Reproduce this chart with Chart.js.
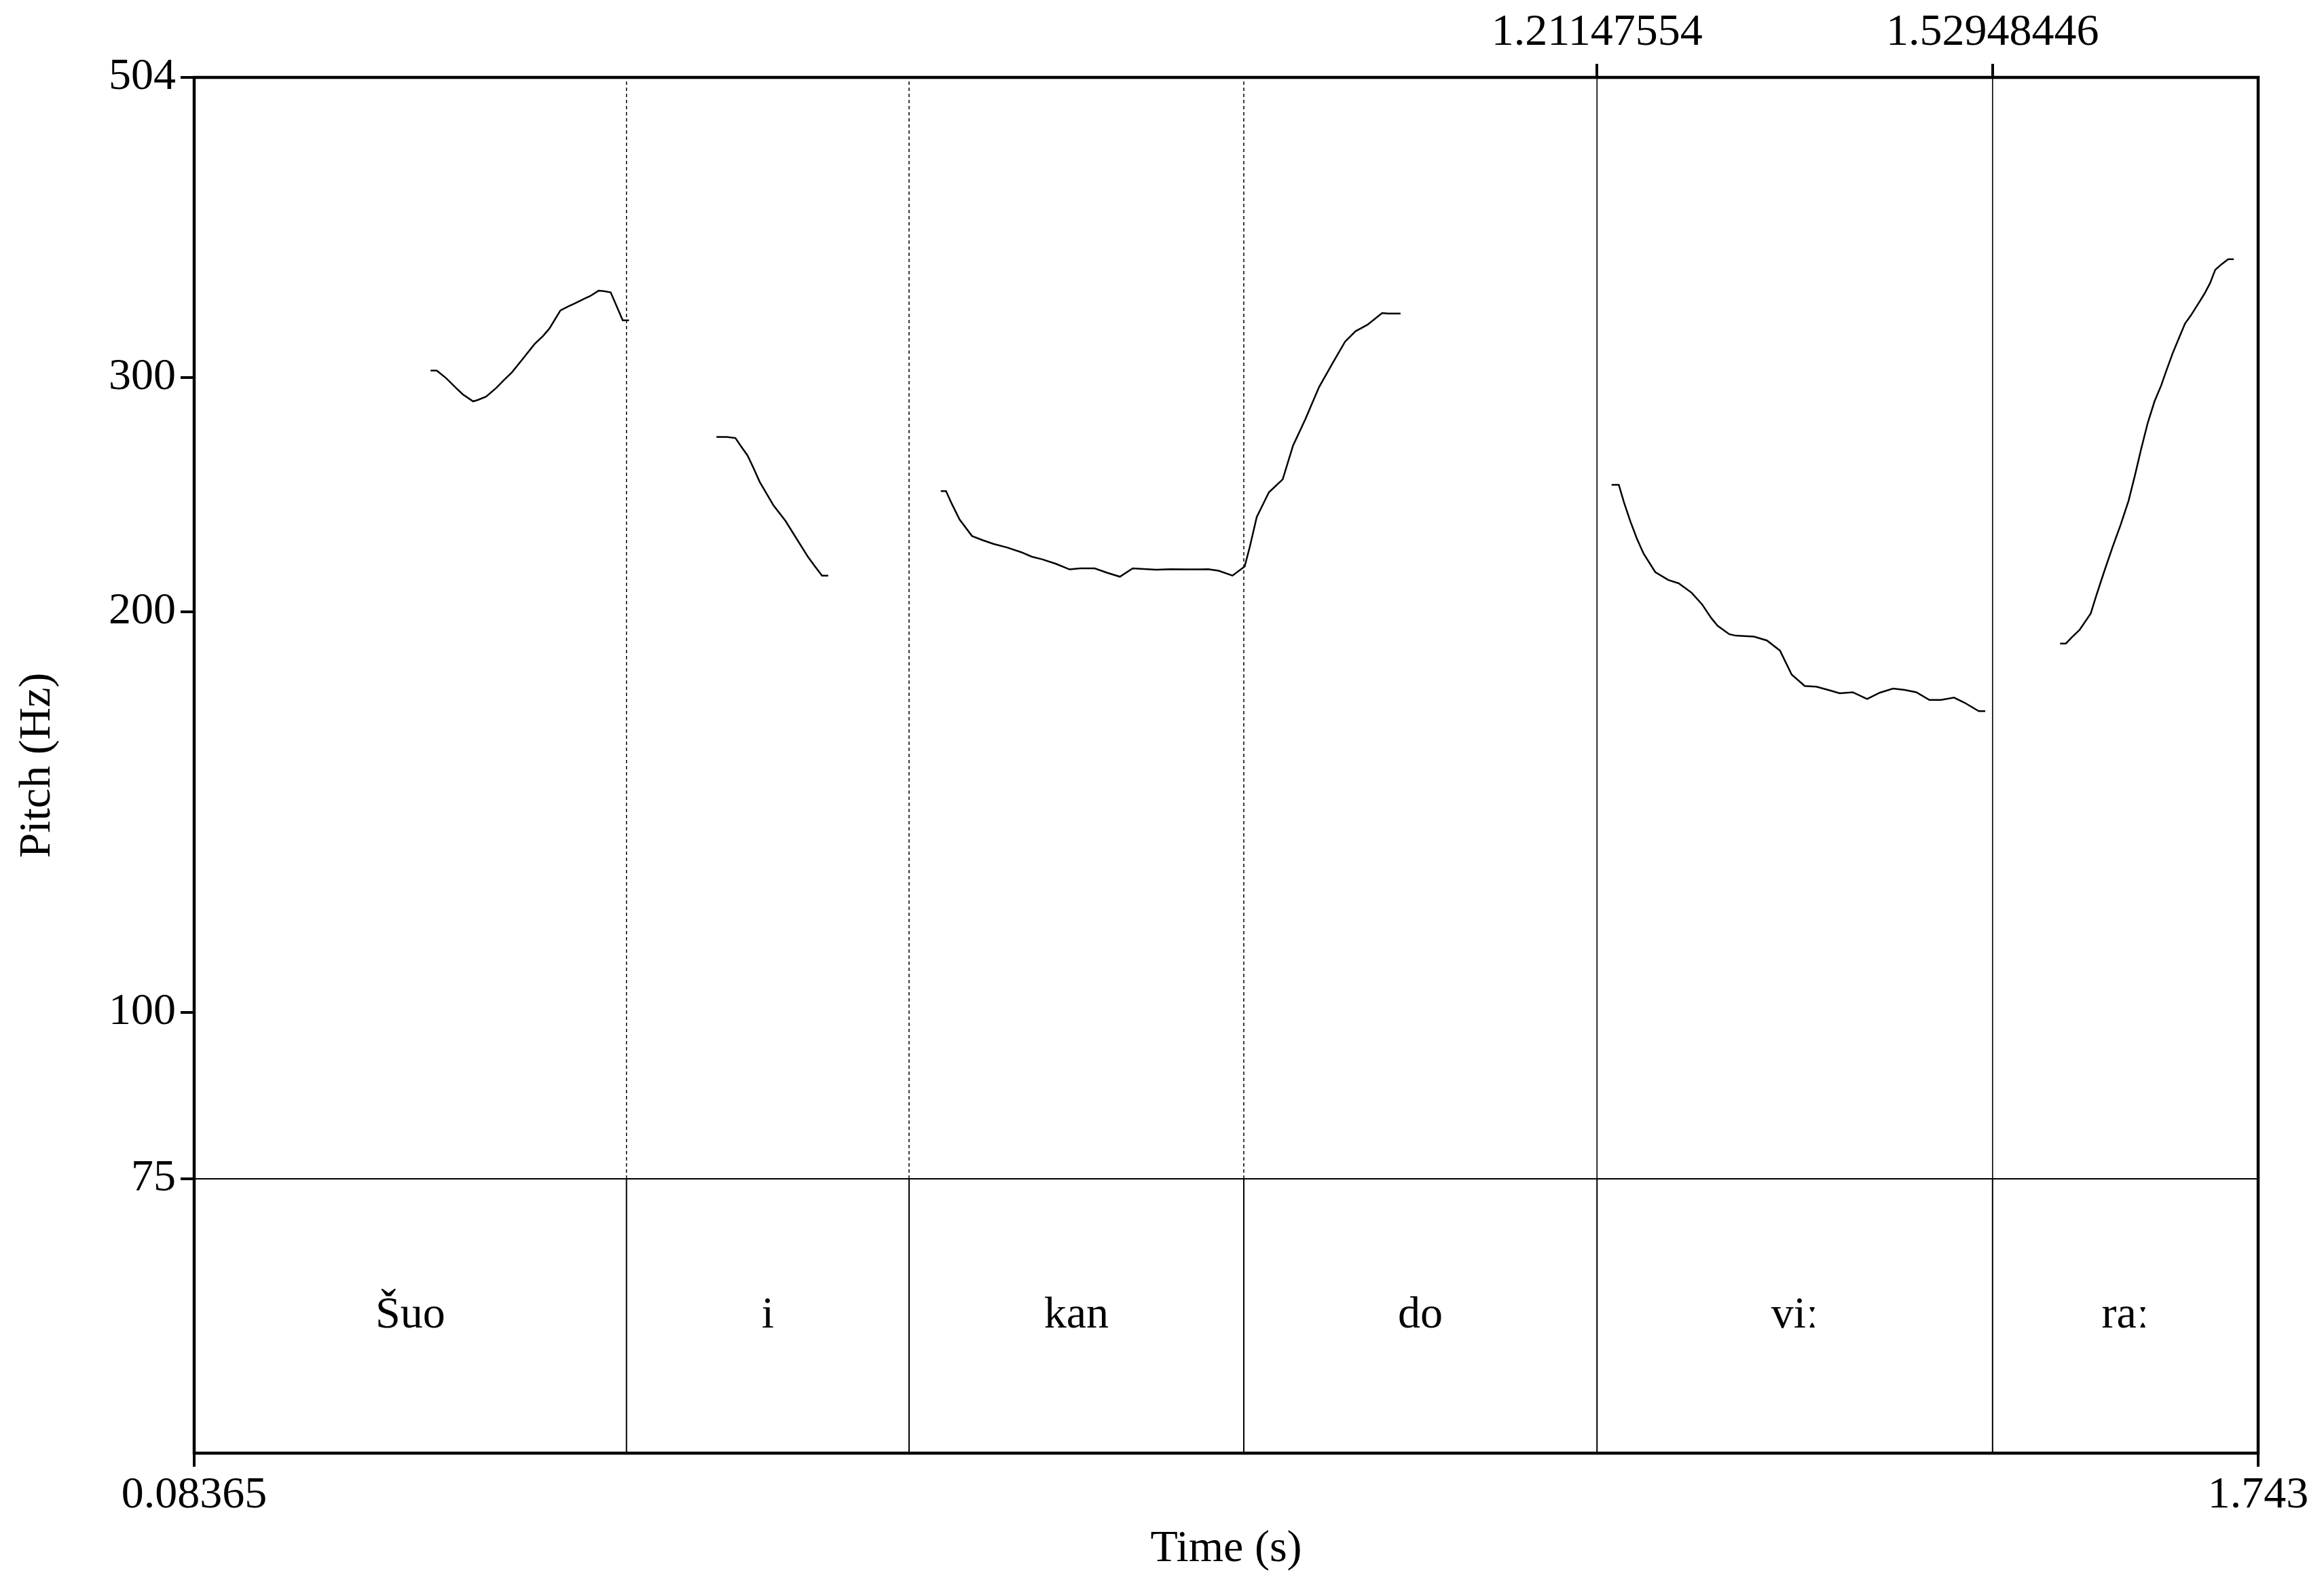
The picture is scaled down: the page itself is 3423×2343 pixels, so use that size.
<!DOCTYPE html>
<html>
<head>
<meta charset="utf-8">
<script src="https://cdn.jsdelivr.net/npm/chart.js@4.4.1/dist/chart.umd.min.js"></script>
<style>
  html, body { margin: 0; padding: 0; background: #fff; }
  canvas { display: block; }
</style>
</head>
<body>
<canvas id="pitchChart" width="3423" height="2343"></canvas>
<script>
// time range and tick labels
const tMin = 0.08365;
const tMax = 1.743;
const bottomTicks = [0.08365, 1.743];
const topTicks = [1.21147554, 1.52948446];
const yTicks = [75, 100, 200, 300, 504];
const yMax = 504;
const yFloor = 75;

// TextGrid tier
const boundaries = [0.4312, 0.6584, 0.9275, 1.21147554, 1.52948446];
const dottedBoundaries = [0.4312, 0.6584, 0.9275];
const solidBoundaries = [1.21147554, 1.52948446];
const tierLabels = ['Šuo', 'i', 'kan', 'do', 'viː', 'raː'];

// pitch contour pieces (time s, Hz)
const seg1Time = [0.2737, 0.2787, 0.2862, 0.2946, 0.2996, 0.3079, 0.3113, 0.3183, 0.3266, 0.3322, 0.3392, 0.3475, 0.3572, 0.3642, 0.3692, 0.3781, 0.3837, 0.3893, 0.3976, 0.4018, 0.4088, 0.4130, 0.4185, 0.4282, 0.4332];
const seg1Hz = [303.5, 303.5, 299.6, 294.3, 291.3, 287.8, 288.4, 290.1, 294.6, 298.3, 302.7, 309.5, 317.7, 322.3, 326.4, 336.8, 338.9, 340.8, 343.8, 345.2, 348.5, 348.2, 347.5, 331.1, 331.1];

const seg2Time = [0.5035, 0.5118, 0.5188, 0.5229, 0.5285, 0.5327, 0.5383, 0.5439, 0.5494, 0.5591, 0.5675, 0.5773, 0.5828, 0.5884, 0.5934];
const seg2Hz = [270.6, 270.6, 270.1, 266.6, 262.1, 257.2, 250.4, 245.3, 240.4, 234.0, 227.3, 219.8, 216.3, 212.9, 212.9];

const seg3Time = [0.6839, 0.6881, 0.6928, 0.6990, 0.7090, 0.7179, 0.7263, 0.7374, 0.7486, 0.7569, 0.7653, 0.7764, 0.7875, 0.7959, 0.8076, 0.8181, 0.8279, 0.8382, 0.8572, 0.8683, 0.8822, 0.8919, 0.8989, 0.9073, 0.9184, 0.9282, 0.9323, 0.9379, 0.9477, 0.9588, 0.9671, 0.9769, 0.9880, 0.9992, 1.0089, 1.0173, 1.0270, 1.0387, 1.0437, 1.0535];
const seg3Hz = [246.4, 246.4, 241.0, 234.6, 228.0, 226.3, 224.9, 223.5, 221.7, 220.0, 219.0, 217.3, 215.2, 215.6, 215.6, 213.9, 212.5, 215.6, 215.1, 215.3, 215.2, 215.2, 215.3, 214.7, 212.9, 216.3, 223.7, 235.6, 245.9, 251.5, 266.6, 278.9, 295.0, 307.8, 319.1, 324.9, 328.6, 335.3, 335.0, 335.0];

const seg4Time = [1.2232, 1.2290, 1.2332, 1.2384, 1.2436, 1.2489, 1.2583, 1.2688, 1.2771, 1.2875, 1.2959, 1.3032, 1.3084, 1.3178, 1.3230, 1.3377, 1.3481, 1.3586, 1.3680, 1.3785, 1.3878, 1.3983, 1.4066, 1.4171, 1.4286, 1.4390, 1.4495, 1.4588, 1.4682, 1.4787, 1.4881, 1.4985, 1.5069, 1.5184, 1.5236];
const seg4Hz = [249.1, 249.1, 241.6, 233.7, 226.9, 221.2, 214.2, 211.3, 210.1, 206.7, 202.6, 197.9, 195.2, 192.4, 191.9, 191.6, 190.3, 187.0, 179.4, 175.9, 175.7, 174.6, 173.7, 174.0, 172.0, 173.9, 175.1, 174.7, 174.0, 171.7, 171.7, 172.4, 170.9, 168.4, 168.4];

const seg5Time = [1.5838, 1.5884, 1.5933, 1.5996, 1.6084, 1.6124, 1.6187, 1.6261, 1.6324, 1.6388, 1.6442, 1.6488, 1.6542, 1.6597, 1.6651, 1.6688, 1.6743, 1.6797, 1.6842, 1.6888, 1.6943, 1.6997, 1.7043, 1.7085, 1.7134, 1.7189, 1.7234];
const seg5Hz = [189.3, 189.3, 191.4, 193.9, 199.4, 205.0, 213.7, 223.9, 232.4, 242.3, 253.8, 264.7, 277.2, 287.8, 295.9, 302.8, 312.8, 321.7, 329.2, 333.8, 340.1, 346.5, 353.0, 361.3, 364.7, 368.0, 368.0];

const SERIF = '"Liberation Serif", "Times New Roman", "DejaVu Serif", serif';
const FONT = { family: SERIF, size: 66 };

// the tier sits under the 75 Hz line; extend the log axis below 75 so the tier gets its share
const tierShare = 404 / 1622;
const yMin = yFloor / Math.pow(yMax / yFloor, tierShare);

// pitch pieces joined with gaps
const segments = [[seg1Time, seg1Hz], [seg2Time, seg2Hz], [seg3Time, seg3Hz], [seg4Time, seg4Hz], [seg5Time, seg5Hz]];
const pitchData = [];
segments.forEach(([ts, hz], i) => {
    if (i > 0) pitchData.push({ x: ts[0], y: null });
    ts.forEach((t, j) => pitchData.push({ x: t, y: hz[j] }));
});

const vLines = (times, lo, hi) => {
    const out = [];
    times.forEach((t, i) => {
        if (i > 0) out.push({ x: t, y: null });
        out.push({ x: t, y: lo }, { x: t, y: hi });
    });
    return out;
};

const lineDs = (data, width, dash) => ({
    type: 'line', data, borderColor: '#000', borderWidth: width, borderDash: dash || [],
    pointRadius: 0, tension: 0, spanGaps: false, fill: false
});

// text tier labels + outer frame
const tierPlugin = {
    id: 'tier',
    afterDatasetsDraw(chart) {
        const { ctx, chartArea, scales: { x, y } } = chart;
        const edges = [tMin, ...boundaries, tMax];
        const yMid = (y.getPixelForValue(yFloor) + chartArea.bottom) / 2;
        ctx.save();
        ctx.fillStyle = '#000';
        ctx.font = `66px ${SERIF}`;
        ctx.textAlign = 'center';
        ctx.textBaseline = 'middle';
        tierLabels.forEach((lab, i) => {
            const xm = (x.getPixelForValue(edges[i]) + x.getPixelForValue(edges[i + 1])) / 2;
            ctx.fillText(lab, xm, yMid);
        });
        ctx.lineWidth = 4.5;
        ctx.strokeStyle = '#000';
        ctx.strokeRect(chartArea.left, chartArea.top, chartArea.right - chartArea.left, chartArea.bottom - chartArea.top);
        ctx.restore();
    }
};

const tickGrid = { drawOnChartArea: false, drawTicks: true, tickLength: 20, lineWidth: 4, color: '#000' };

new Chart(document.getElementById('pitchChart'), {
    type: 'line',
    data: {
        datasets: [
            lineDs(pitchData, 2.5),
            lineDs([{ x: tMin, y: yFloor }, { x: tMax, y: yFloor }], 2.2),
            lineDs(vLines(boundaries, yMin, yFloor), 2),
            lineDs(vLines(dottedBoundaries, yFloor, yMax), 1.5, [5, 4]),
            lineDs(vLines(solidBoundaries, yFloor, yMax), 1.6)
        ]
    },
    options: {
        responsive: false,
        devicePixelRatio: 1,
        animation: false,
        layout: { padding: { left: 0, right: 97, top: 0, bottom: 0 } },
        plugins: { legend: { display: false }, tooltip: { enabled: false } },
        scales: {
            x: {
                type: 'linear', position: 'bottom', min: tMin, max: tMax,
                afterFit: s => { s.height = 203; },
                afterBuildTicks: s => { s.ticks = bottomTicks.map(v => ({ value: v })); },
                ticks: { font: FONT, color: '#000', padding: 3, maxRotation: 0, autoSkip: false, callback: v => String(v) },
                grid: tickGrid,
                border: { display: false },
                title: { display: true, text: 'Time (s)', font: FONT, color: '#000', padding: { top: 0, bottom: 22 } }
            },
            xTop: {
                type: 'linear', position: 'top', min: tMin, max: tMax,
                afterFit: s => { s.height = 114; },
                afterBuildTicks: s => { s.ticks = topTicks.map(v => ({ value: v })); },
                ticks: { font: FONT, color: '#000', padding: 6, maxRotation: 0, autoSkip: false, callback: v => String(v) },
                grid: tickGrid,
                border: { display: false }
            },
            y: {
                type: 'logarithmic', position: 'left', min: yMin, max: yMax,
                afterFit: s => { s.width = 286; },
                afterBuildTicks: s => { s.ticks = yTicks.map(v => ({ value: v })); },
                ticks: { font: FONT, color: '#000', padding: 7, autoSkip: false, callback: v => String(v) },
                grid: tickGrid,
                border: { display: false },
                title: { display: true, text: 'Pitch (Hz)', font: FONT, color: '#000', padding: { top: 16, bottom: 0 } }
            }
        }
    },
    plugins: [tierPlugin]
});
</script>
</body>
</html>
